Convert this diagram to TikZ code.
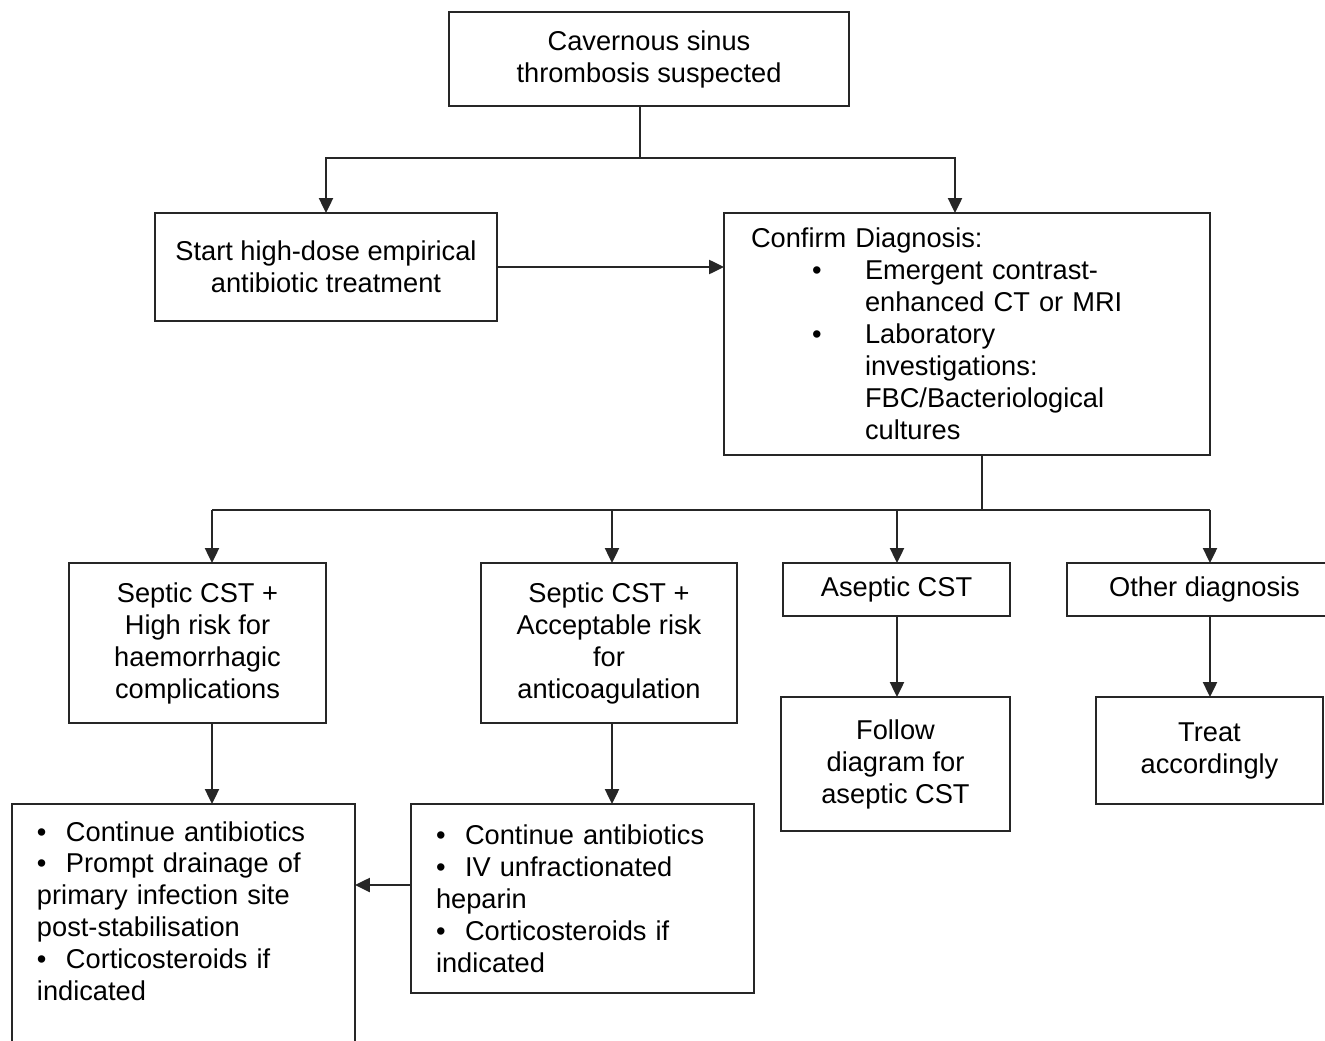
\documentclass[tikz,border=0pt]{standalone}
\usepackage{fontspec}
\setmainfont{Liberation Sans}
\usetikzlibrary{arrows.meta}
\newcommand{\bul}{\makebox[0.58cm][l]{\textbullet}}
\newcommand{\cbul}{\hspace*{1.22cm}\makebox[1.06cm][l]{\textbullet}}
\newcommand{\cind}{\hspace*{2.28cm}}
\begin{document}
\begin{tikzpicture}
[x=0.02cm, y=-0.02cm,
 nodes={draw=black!85, line width=1pt, inner sep=0pt, outer sep=0pt, align=center,
        font=\fontsize{15.5}{18.2}\selectfont},
 >={Triangle[length=8.5pt,width=8pt]}, line width=1.1pt, draw=black!85]
\useasboundingbox (0,0) rectangle (1325,1041);

\node (suspect) at (649,59) [minimum width=8cm, minimum height=1.88cm]
  {Cavernous sinus\\thrombosis suspected};
\node (empiric) at (326,267) [minimum width=6.84cm, minimum height=2.16cm]
  {Start high-dose empirical\\antibiotic treatment};
\node (confirm) at (967,334) [minimum width=9.72cm, minimum height=4.84cm,
  text width=8.64cm, align=left]
  {Confirm Diagnosis:\\
   \cbul Emergent contrast-\\
   \cind enhanced CT or MRI\\
   \cbul Laboratory\\
   \cind investigations:\\
   \cind FBC/Bacteriological\\
   \cind cultures};

\node (highrisk) at (197.5,643) [minimum width=5.14cm, minimum height=3.2cm]
  {Septic CST +\\High risk for\\haemorrhagic\\complications};
\node (okrisk) at (609,643) [minimum width=5.12cm, minimum height=3.2cm]
  {Septic CST +\\Acceptable risk\\for\\anticoagulation};
\node (aseptic) at (896.5,589.5) [minimum width=4.54cm, minimum height=1.06cm]
  {Aseptic CST};
\node (otherdx) at (1204.5,589.5) [minimum width=5.5cm, minimum height=1.06cm]
  {Other diagnosis};

\node (drain) at (12,804) [anchor=north west, text width=5.86cm, inner xsep=0.5cm,
  align=left, text height=0.74cm, text depth=4.38cm]
  {\bul Continue antibiotics\\
   \bul Prompt drainage of\\
   primary infection site\\
   post-stabilisation\\
   \bul Corticosteroids if\\
   indicated};
\node (heparin) at (582.5,898.5) [minimum width=6.86cm, minimum height=3.78cm,
  text width=5.86cm, align=left]
  {\bul Continue antibiotics\\
   \bul IV unfractionated\\
   heparin\\
   \bul Corticosteroids if\\
   indicated};
\node (followdx) at (895.5,764) [minimum width=4.58cm, minimum height=2.68cm]
  {Follow\\diagram for\\aseptic CST};
\node (treat) at (1209.5,750.5) [minimum width=4.54cm, minimum height=2.14cm]
  {Treat\\accordingly};

% first split
\coordinate (topfork) at (640,158);
\coordinate (toconfirm) at (955,158);
\draw (suspect.south -| topfork) -- (topfork);
\draw [->] (topfork) -| (empiric.north);
\draw [->] (topfork) -- (toconfirm) -- (toconfirm |- confirm.north);
\draw [->] (empiric.east) -- (empiric.east -| confirm.west);

% diagnosis split
\coordinate (dxfork) at (982,510);
\coordinate (bus-highrisk) at (212,510);
\coordinate (bus-okrisk) at (612,510);
\coordinate (bus-aseptic) at (897,510);
\coordinate (bus-otherdx) at (1210,510);
\draw (confirm.south -| dxfork) -- (dxfork);
\draw (bus-highrisk) -- (bus-otherdx);
\draw [->] (bus-highrisk) -- (bus-highrisk |- highrisk.north);
\draw [->] (bus-okrisk) -- (bus-okrisk |- okrisk.north);
\draw [->] (bus-aseptic) -- (bus-aseptic |- aseptic.north);
\draw [->] (bus-otherdx) -- (bus-otherdx |- otherdx.north);

% treatment
\draw [->] (bus-highrisk |- highrisk.south) -- (bus-highrisk |- drain.north);
\draw [->] (bus-okrisk |- okrisk.south) -- (bus-okrisk |- heparin.north);
\draw [->] (bus-aseptic |- aseptic.south) -- (bus-aseptic |- followdx.north);
\draw [->] (bus-otherdx |- otherdx.south) -- (bus-otherdx |- treat.north);
\draw [->] ([yshift=0.27cm]heparin.west) -- ([yshift=0.27cm]heparin.west -| drain.east);
\end{tikzpicture}
\end{document}
